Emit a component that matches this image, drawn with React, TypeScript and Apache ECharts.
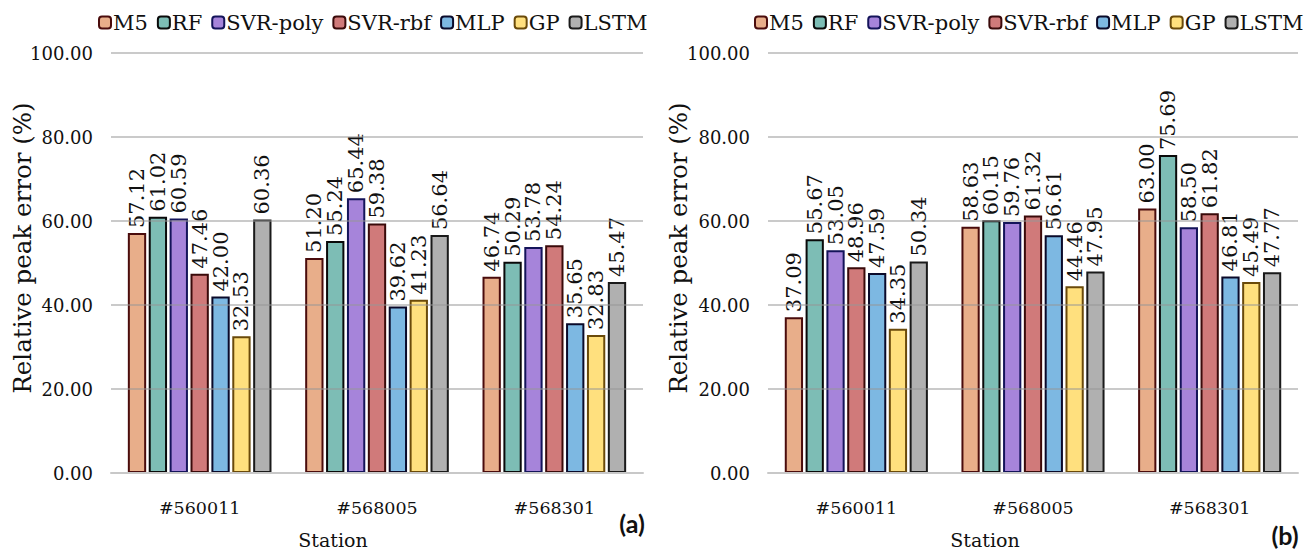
import React, { useEffect, useRef } from "react";
import * as echarts from "echarts";

const stations = ["#560011", "#568005", "#568301"];
const models = ["M5", "RF", "SVR-poly", "SVR-rbf", "MLP", "GP", "LSTM"];
const yTicks = [0, 20, 40, 60, 80, 100];

// Panel (a)
const aM5 = [57.12, 51.2, 46.74];
const aRF = [61.02, 55.24, 50.29];
const aSVRpoly = [60.59, 65.44, 53.78];
const aSVRrbf = [47.46, 59.38, 54.24];
const aMLP = [42.0, 39.62, 35.65];
const aGP = [32.53, 41.23, 32.83];
const aLSTM = [60.36, 56.64, 45.47];

// Panel (b)
const bM5 = [37.09, 58.63, 63.0];
const bRF = [55.67, 60.15, 75.69];
const bSVRpoly = [53.05, 59.76, 58.5];
const bSVRrbf = [48.96, 61.32, 61.82];
const bMLP = [47.59, 56.61, 46.81];
const bGP = [34.35, 44.46, 45.49];
const bLSTM = [50.34, 47.95, 47.77];

const panelA = [aM5, aRF, aSVRpoly, aSVRrbf, aMLP, aGP, aLSTM];
const panelB = [bM5, bRF, bSVRpoly, bSVRrbf, bMLP, bGP, bLSTM];

const fills = ["#E8AE8A", "#7DBDB5", "#A684DA", "#D07A7A", "#7DB8E2", "#FFE07E", "#B0B0B0"];
const borders = ["#4a0c0c", "#0a0a0a", "#14145a", "#3a0a0a", "#0a0a2a", "#6a4a0a", "#1a1a1a"];

const FONT = "DejaVu Serif";
const BOLD_FONT = "Lato";

export default function App() {
  const ref = useRef<HTMLDivElement>(null);
  useEffect(() => {
    if (!ref.current) return;
    const chart = echarts.init(ref.current, null, { renderer: "svg" });
    const grids = [
      { left: 111, top: 53, width: 532, height: 420 },
      { left: 768, top: 53, width: 530, height: 420 },
    ];
    const xAxes = grids.map((_, i) => ({
      type: "category",
      gridIndex: i,
      data: stations,
      axisLine: { lineStyle: { color: "#c8c8c8", width: 2 } },
      axisTick: { show: false },
      axisLabel: { color: "#111", fontFamily: FONT, fontSize: 17.5, margin: 26 },
      z: 3,
    }));
    const yAxes = grids.map((_, i) => ({
      type: "value",
      gridIndex: i,
      min: yTicks[0],
      max: yTicks[yTicks.length - 1],
      interval: 20,
      axisLine: { show: false },
      axisTick: { show: false },
      axisLabel: {
        color: "#111",
        fontFamily: FONT,
        fontSize: 18,
        margin: 18,
        formatter: (v: number) => v.toFixed(2),
      },
      splitLine: { lineStyle: { color: "rgba(150,150,150,0.5)", width: 2 } },
      z: 3,
    }));
    const series: any[] = [];
    [panelA, panelB].forEach((panel, pi) => {
      panel.forEach((vals, si) => {
        series.push({
          type: "bar",
          name: models[si],
          xAxisIndex: pi,
          yAxisIndex: pi,
          data: vals,
          barCategoryGap: "19%",
          barGap: "14%",
          itemStyle: { color: fills[si], borderColor: borders[si], borderWidth: 2 },
          label: {
            show: true,
            position: "top",
            rotate: 90,
            align: "left",
            verticalAlign: "middle",
            distance: 5,
            color: "#111",
            fontFamily: FONT,
            fontSize: 21,
            formatter: (p: any) => Number(p.value).toFixed(2),
          },
        });
      });
    });
    const legendBase = {
      top: 7,
      width: 620,
      itemWidth: 12,
      itemHeight: 12,
      itemGap: 9,
      textStyle: { color: "#111", fontFamily: FONT, fontSize: 21, padding: [0, 0, 0, -3] },
      data: models,
    };
    const textStyle = (size: number) => ({ fontFamily: FONT, fontSize: size, fill: "#111", align: "center", verticalAlign: "middle" });
    chart.setOption({
      animation: false,
      backgroundColor: "#fff",
      textStyle: { fontFamily: FONT },
      grid: grids,
      xAxis: xAxes,
      yAxis: yAxes,
      legend: [
        { ...legendBase, left: 93 },
        { ...legendBase, left: 749 },
      ],
      series,
      graphic: [
        { type: "text", x: 22, y: 248, rotation: Math.PI / 2, style: { text: "Relative peak error (%)", ...textStyle(24.5) } },
        { type: "text", x: 678, y: 248, rotation: Math.PI / 2, style: { text: "Relative peak error (%)", ...textStyle(24.5) } },
        { type: "text", x: 333, y: 540, style: { text: "Station", ...textStyle(19) } },
        { type: "text", x: 985, y: 540, style: { text: "Station", ...textStyle(19) } },
        {
          type: "text",
          x: 632,
          y: 523,
          style: { text: "(a)", fontFamily: BOLD_FONT, fontWeight: "bold", fontSize: 25, fill: "#111", align: "center", verticalAlign: "middle" },
        },
        {
          type: "text",
          x: 1285,
          y: 535,
          style: { text: "(b)", fontFamily: BOLD_FONT, fontWeight: "bold", fontSize: 25, fill: "#111", align: "center", verticalAlign: "middle" },
        },
      ],
    });
    return () => chart.dispose();
  }, []);
  return <div ref={ref} style={{ position: "fixed", left: 0, top: 0, width: 1316, height: 553 }} />;
}
